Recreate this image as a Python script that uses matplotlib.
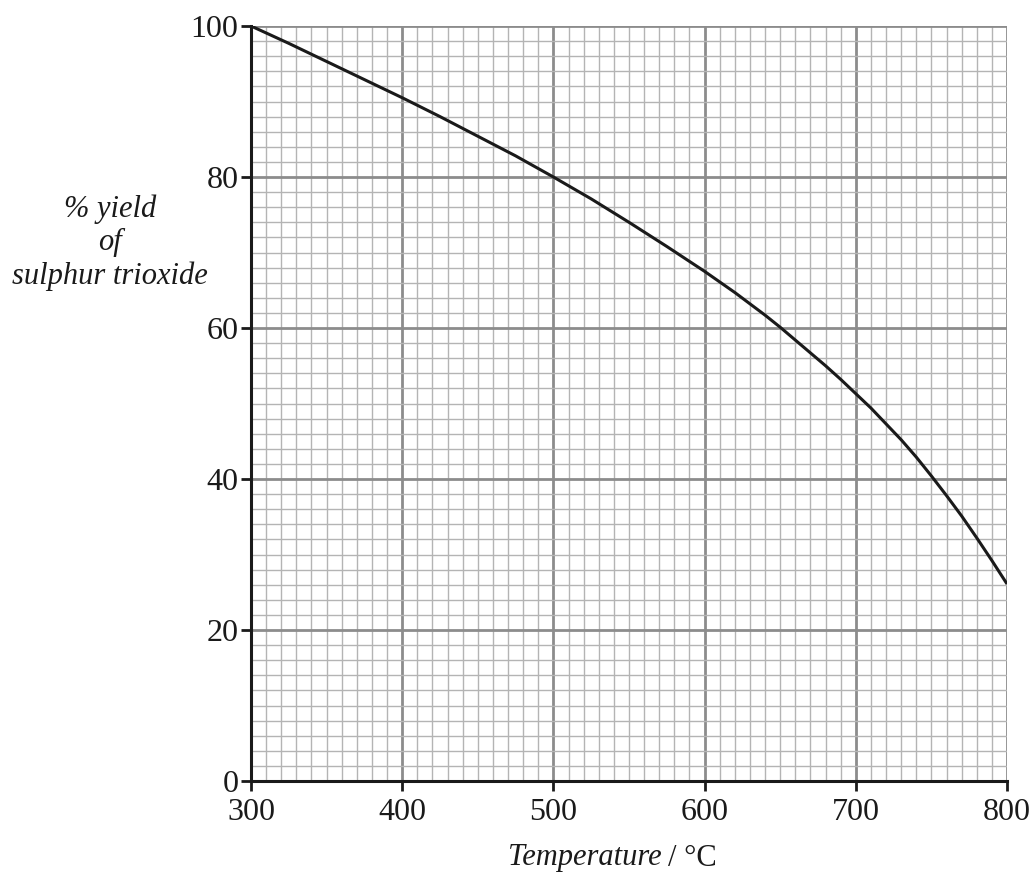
import matplotlib
matplotlib.use("Agg")
import matplotlib.pyplot as plt
from matplotlib.ticker import MultipleLocator

temperature = [300, 325, 350, 375, 400, 425, 450, 475, 500, 525, 550, 575, 600, 620, 640,
               650, 660, 670, 680, 690, 700, 710, 720, 730, 740, 750, 760, 770, 780, 790, 800]
yield_pct = [100, 97.7, 95.3, 92.9, 90.5, 88.0, 85.4, 82.8, 80.0, 77.1, 74.0, 70.8, 67.5, 64.7, 61.7,
             60.1, 58.4, 56.7, 55.0, 53.2, 51.3, 49.4, 47.3, 45.2, 42.9, 40.4, 37.8, 35.1, 32.2, 29.2, 26.1]
x_ticks = [300, 400, 500, 600, 700, 800]
y_ticks = [0, 20, 40, 60, 80, 100]

plt.rcParams['font.family'] = ['Liberation Serif', 'DejaVu Serif']

fig = plt.figure(figsize=(10.35, 8.82), dpi=100)
ax = fig.add_axes([251/1035, 101/882, 756/1035, 755/882])
ax.set_xlim(300, 800)
ax.set_ylim(0, 100)

ax.xaxis.set_minor_locator(MultipleLocator(10))
ax.yaxis.set_minor_locator(MultipleLocator(2))
ax.set_xticks(x_ticks)
ax.set_yticks(y_ticks)
ax.grid(which='minor', color='#b4b4b4', linewidth=1.0)
ax.grid(which='major', color='#8c8c8c', linewidth=2.0)
ax.set_axisbelow(True)

ax.plot(temperature, yield_pct, color='#1a1a1a', linewidth=2.2, solid_capstyle='butt',
        solid_joinstyle='round', zorder=3)

for s in ['top', 'right']:
    ax.spines[s].set_visible(False)
for s in ['left', 'bottom']:
    ax.spines[s].set_color('#1a1a1a')
    ax.spines[s].set_linewidth(2.2)
    ax.spines[s].set_zorder(4)

ax.tick_params(which='minor', length=0)
ax.tick_params(which='major', direction='out', length=7, width=2, color='#1a1a1a',
               labelsize=23, labelcolor='#1a1a1a')
ax.tick_params(axis='x', which='major', pad=5)
ax.tick_params(axis='y', which='major', pad=2)

fig.text(110/1035, 1 - 243/882, "% yield\nof\nsulphur trioxide", ha='center', va='center',
         fontsize=22, style='italic', color='#1a1a1a', linespacing=1.2)
fig.text(662/1035, 1 - 858/882, "Temperature", ha='right', va='center',
         fontsize=22, style='italic', color='#1a1a1a')
fig.text(668/1035, 1 - 858/882, "/ °C", ha='left', va='center',
         fontsize=22, color='#1a1a1a')

fig.savefig("out.png", dpi=100)
